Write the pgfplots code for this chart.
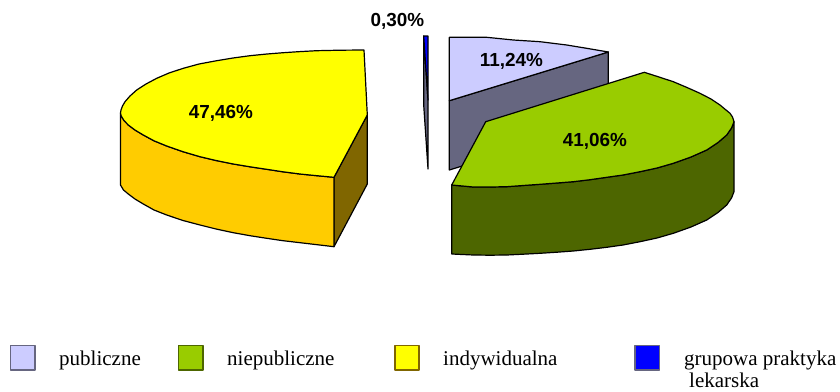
\documentclass[border=0pt]{standalone}
\usepackage{fontspec}
\setmainfont{Liberation Serif}
\newfontfamily\arialf{Liberation Sans}
\usepackage{pgfplots}
\pgfplotsset{compat=1.18}
\definecolor{cpub}{HTML}{CCCCFF}
\definecolor{cpubd}{HTML}{666680}
\definecolor{cnie}{HTML}{99CC00}
\definecolor{cnied}{HTML}{4D6600}
\definecolor{cind}{HTML}{FFFF00}
\definecolor{cfront}{HTML}{FFCC00}
\definecolor{cright}{HTML}{806600}
\definecolor{cgrp}{HTML}{0000FF}
\tikzset{
  lab/.style={font=\arialf\bfseries\fontsize{18.9}{20}\selectfont, text=black, inner sep=0pt},
  leg/.style={font=\fontsize{21}{23}\selectfont, text=black, inner sep=0pt, anchor=base west},
}
\begin{document}
\begin{tikzpicture}
\path[use as bounding box] (0,0) rectangle (840pt,391pt);
\begin{axis}[
  at={(0,0)}, anchor=south west,
  hide axis, scale only axis, width=840pt, height=391pt,
  xmin=0, xmax=840, ymin=0, ymax=391, y dir=reverse, clip=false,
  every axis plot/.append style={line width=1.2pt, line join=round, draw=black},
]
% grupowa praktyka lekarska
\addplot[fill=cpubd] coordinates {(428,100)(423.7,36)(423.7,105)(428,169)} --cycle;
\addplot[fill=cgrp] coordinates {(423.7,36)(428,36)(428,100)} --cycle;
% publiczne
\addplot[fill=cpubd] coordinates {(449.3,100.7)(608.3,52)(608.3,121)(449.3,170)} --cycle;
\addplot[fill=cpub] coordinates {(449.3,37.3)(486.7,37.3)(513.3,40)(540,41.7)(566.7,45)(586.7,48.3)(608.3,52)(449.3,100.7)} --cycle;
% niepubliczne
\addplot[fill=cnied] coordinates {(451.7,185)(473.3,187)(490,187)(506.7,186.7)(523,185.5)(540,184.3)(557,183)(573.3,181.7)(590,179.7)(606.7,177.3)(623,175)(640,171.7)(657,168)(673.3,163.3)(691,157)(706.7,150)(718,142.5)(726.7,135)(731.5,128)(734,121.7)(734,191.7)(731.5,198)(726.7,205)(718,212.5)(706.7,220)(691,227)(673.3,233.3)(657,238)(640,241.7)(623,245)(606.7,247.3)(590,249.3)(573.3,251)(557,252.2)(540,253.3)(523,254.2)(506.7,255)(490,255.2)(473.3,255)(451.7,254)} --cycle;
\addplot[fill=cnie] coordinates {(485.7,121.7)(644.3,72.3)(659,77)(673.3,81.7)(687,87.5)(700,93.3)(711,99)(720,105)(726,110)(730,113.3)(732.5,117)(734,121.7)(731.5,128)(726.7,135)(718,142.5)(706.7,150)(691,157)(673.3,163.3)(657,168)(640,171.7)(623,175)(606.7,177.3)(590,179.7)(573.3,181.7)(557,183)(540,184.3)(523,185.5)(506.7,186.7)(490,187)(473.3,187)(451.7,185)} --cycle;
% indywidualna
\addplot[fill=cright] coordinates {(334,177.3)(367.3,115)(367.3,184)(334,246.7)} --cycle;
\addplot[fill=cfront] coordinates {(334,177.3)(317,175.7)(300,174)(283,171.8)(266.7,169.3)(250,166.8)(233.3,164)(216,160.5)(200,156.7)(183,151.7)(166.7,146)(154,140.8)(143.3,135)(135,130)(128.3,125)(124,120.5)(121.2,116)(120.5,113)(120.5,185)(123.5,190)(128.3,194)(135,199)(143.3,204)(154,210)(166.7,215)(183,220.5)(200,225)(216,229)(233.3,232.7)(250,235.7)(266.7,238.3)(283,240.7)(300,242.7)(317,244.7)(334,246.7)} --cycle;
\addplot[fill=cind] coordinates {(334,177.3)(317,175.7)(300,174)(283,171.8)(266.7,169.3)(250,166.8)(233.3,164)(216,160.5)(200,156.7)(183,151.7)(166.7,146)(154,140.8)(143.3,135)(135,130)(128.3,125)(124,120.5)(121.2,116)(120.5,113)(121,110)(122.5,106)(125,101.7)(130,96)(136.7,90)(146,84)(156.7,78.3)(169,73)(183.3,68.3)(199,64)(216.7,60.7)(233,58)(250,55.7)(267,54)(283.3,52.7)(300,51.6)(316.7,50.7)(340,50.2)(364,50)(367.3,115)} --cycle;
% legend swatches
\addplot[fill=cpub, draw=cpubd, line width=1.3pt] coordinates {(10.5,345.5)(35,345.5)(35,370)(10.5,370)} --cycle;
\addplot[fill=cnie, draw=cnied, line width=1.3pt] coordinates {(178.8,345.5)(203,345.5)(203,370)(178.8,370)} --cycle;
\addplot[fill=cind, draw=cright, line width=1.3pt] coordinates {(395,345.5)(419,345.5)(419,370)(395,370)} --cycle;
\addplot[fill=cgrp, draw=cpubd, line width=1.3pt] coordinates {(635,345.5)(659.5,345.5)(659.5,370)(635,370)} --cycle;
% texts
\node[lab] at (axis cs:221,113.5) {47,46\%};
\node[lab] at (axis cs:595,141.5) {41,06\%};
\node[lab] at (axis cs:511.5,61.5) {11,24\%};
\node[lab] at (axis cs:397.5,21.5) {0,30\%};
\node[leg] at (axis cs:59,365) {publiczne};
\node[leg] at (axis cs:227,365) {niepubliczne};
\node[leg] at (axis cs:443,365) {indywidualna};
\node[leg] at (axis cs:684,365) {grupowa praktyka};
\node[leg] at (axis cs:689,387) {lekarska};
\end{axis}
\end{tikzpicture}
\end{document}
